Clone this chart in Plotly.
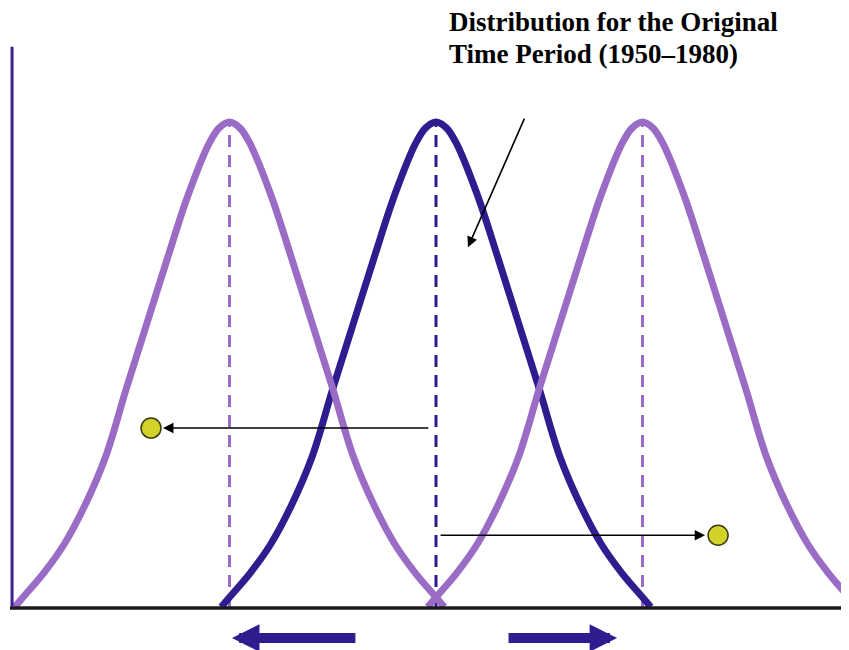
import plotly.graph_objects as go

# distribution centres (shifted cooler / original / shifted warmer)
centres = [-1.0, 0.0, 1.0]
curve_names = ["Cooler period", "Original period (1950-1980)", "Warmer period"]

# one half of the bell shape (offset from centre, height)
offsets = [0.0, 0.05, 0.1, 0.2, 0.3, 0.4, 0.5, 0.6, 0.7, 0.8, 0.9, 1.0, 1.04]
heights = [1.0, 0.988, 0.955, 0.85, 0.72, 0.585, 0.45, 0.31, 0.21, 0.13, 0.07, 0.02, 0.0]

# the two example events (dots) and where their arrows start
event_x = [-1.38, 1.366]
event_y = [0.369, 0.148]
event_from_x = [-0.03, 0.015]
event_tip_x = [-1.322, 1.303]

title_lines = ["Distribution for the Original", "Time Period (1950\u20131980)"]

PURPLE = "#9b6cc6"
DARK = "#2e1d8e"

prof_x = [-o for o in offsets[::-1]] + offsets[1:]
prof_y = heights[::-1] + heights[1:]

data = []

# dashed lines at the means
for c, col in zip(centres, [PURPLE, DARK, PURPLE]):
    data.append(go.Scatter(
        x=[c, c], y=[0, 1], mode="lines",
        line=dict(color=col, width=3, dash="12px,8px"),
        showlegend=False, hoverinfo="skip"
    ))

# original distribution underneath, shifted ones drawn on top
order = [1, 0, 2]
for i in order:
    c = centres[i]
    data.append(go.Scatter(
        x=[c + px for px in prof_x], y=prof_y,
        mode="lines",
        line=dict(color=DARK if i == 1 else PURPLE, width=7, shape="spline", smoothing=1.0),
        name=curve_names[i], showlegend=False, hoverinfo="skip"
    ))

data.append(go.Scatter(
    x=event_x, y=event_y, mode="markers",
    marker=dict(size=20, color="#d2d22a", line=dict(color="#3a3a10", width=1.5)),
    showlegend=False, hoverinfo="skip"
))

fig = go.Figure(data=data)

annotations = []
for fx, tx, y in zip(event_from_x, event_tip_x, event_y):
    annotations.append(dict(
        x=tx, y=y, ax=fx, ay=y, xref="x", yref="y", axref="x", ayref="y",
        text="", showarrow=True, arrowhead=2, arrowsize=1.3, arrowwidth=1.6,
        arrowcolor="black"
    ))

# pointer from the label to the original curve
annotations.append(dict(
    x=0.155, y=0.742, ax=0.431, ay=1.010, xref="x", yref="y", axref="x", ayref="y",
    text="", showarrow=True, arrowhead=2, arrowsize=1.3, arrowwidth=1.6,
    arrowcolor="black"
))

# big shift arrows under the axis
for tip, tail in [(-0.988, -0.383), (0.877, 0.344)]:
    annotations.append(dict(
        x=tip, y=-0.064, ax=tail, ay=-0.064, xref="x", yref="y", axref="x", ayref="y",
        text="", showarrow=True, arrowhead=2, arrowsize=0.55, arrowwidth=10,
        arrowcolor=DARK
    ))

for line, y in zip(title_lines, [1.206, 1.140]):
    annotations.append(dict(
        x=0.053, y=y, xref="x", yref="y", xanchor="left", yanchor="middle",
        text="<b>" + line + "</b>", showarrow=False,
        font=dict(family="Liberation Serif", size=27, color="black")
    ))

shapes = [
    # horizontal axis
    dict(type="line", xref="x", yref="y", x0=-2.063, x1=2.1, y0=-0.002, y1=-0.002,
         line=dict(color="#1a1a1a", width=3.5)),
    # vertical axis
    dict(type="line", xref="x", yref="y", x0=-2.053, x1=-2.053, y0=0, y1=1.155,
         line=dict(color="#3a2193", width=3)),
]

# the page adds an 8px body margin, so the figure is 8px smaller
fig.update_layout(
    width=841, height=642,
    margin=dict(l=0, r=0, t=0, b=0),
    paper_bgcolor="white", plot_bgcolor="white",
    xaxis=dict(range=[-2.0727, 2.0], visible=False, fixedrange=True),
    yaxis=dict(range=[-0.0886, 1.2351], visible=False, fixedrange=True),
    annotations=annotations,
    shapes=shapes,
    showlegend=False
)

fig.write_html("out.html")
